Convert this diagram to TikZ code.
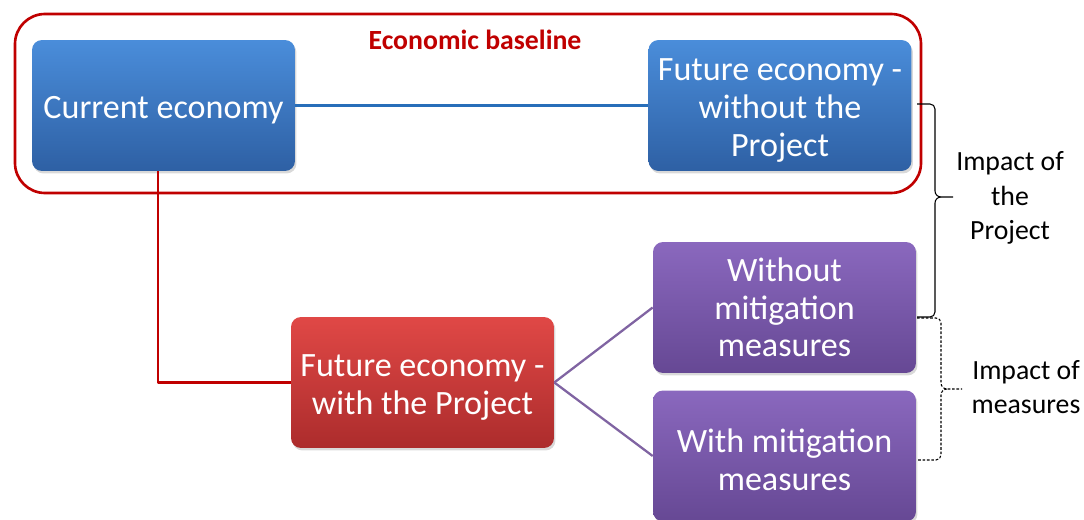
\documentclass[tikz,border=0pt]{standalone}
\usepackage{fontspec}
\setmainfont{Carlito}
\usepackage{tikz}
\usetikzlibrary{shadows}
\definecolor{framered}{RGB}{192,0,0}
\definecolor{linkblue}{RGB}{40,110,185}
\definecolor{linkpurple}{RGB}{128,100,162}
\newcommand\boxstrut{\rule{0pt}{18pt}}
\tikzset{
  ecobox/.style={rounded corners=0.2cm,minimum width=5.26cm,minimum height=2.62cm,
    align=center,text=white,font=\fontsize{19.4}{21.5}\selectfont,
    drop shadow={shadow xshift=0.03cm,shadow yshift=-0.05cm,opacity=0.3}},
  bluebox/.style={ecobox,top color={rgb,255:red,74;green,141;blue,218},bottom color={rgb,255:red,46;green,96;blue,164}},
  redbox/.style={ecobox,top color={rgb,255:red,224;green,72;blue,70},bottom color={rgb,255:red,172;green,44;blue,44}},
  purplebox/.style={ecobox,top color={rgb,255:red,138;green,104;blue,190},bottom color={rgb,255:red,102;green,72;blue,148}},
  impact/.style={align=center,font=\fontsize{15.8}{19.6}\selectfont},
  bracket/.style={line width=0.6pt}
}
% side brace: options, x of stem, top y, tip y, bottom y, x of tip
\newcommand\sidebrace[6]{%
  \draw[bracket,#1] (917,#3) -- (#2-5,#3) to[out=0,in=90] (#2,#3+5) -- (#2,#4-6)
    to[out=-90,in=180] (#2+6,#4) -- (#6,#4);
  \draw[bracket,#1] (#2+6,#4) to[out=180,in=90] (#2,#4+6) -- (#2,#5-5)
    to[out=-90,in=0] (#2-5,#5) -- (917,#5);}

\begin{document}
\begin{tikzpicture}[x=0.02cm,y=-0.02cm,line join=round]
\useasboundingbox (0,0) rectangle (1084,520);
% --- baseline frame
\draw[framered,line width=1.5pt,rounded corners=0.6cm] (15,14) rectangle (921,193);
\node[text=framered,font=\bfseries\fontsize{15.8}{19}\selectfont] (ttl) at (475,40) {Economic baseline};
% --- boxes
\node[bluebox] (cur) at (163.5,105.5) {\boxstrut Current economy};
\node[bluebox] (fwo) at (780,105.5) {\boxstrut Future economy -\\without the\\Project};
\node[redbox] (fwp) at (422.5,382.5) {\boxstrut Future economy -\\with the Project};
\node[purplebox] (wom) at (784.5,307.5) {Without\\mitigation\\measures};
\node[purplebox] (wm) at (784.5,456) {\boxstrut With mitigation\\measures};
% --- links
\draw[linkblue,line width=1.3pt] (cur) -- (fwo);
\draw[framered,line width=1.5pt] ([xshift=-0.11cm]cur.south) |- (fwp.west);
\draw[linkpurple,line width=1.3pt] (fwp.east) -- (wom.west);
\draw[linkpurple,line width=1.3pt] (fwp.east) -- (wm.west);
% --- braces
\sidebrace{}{935}{104}{197}{317}{953}
\sidebrace{dash pattern=on 1.5pt off 1pt}{941}{318}{389}{460}{962}
\node[impact] (ipr) at (1010,198) {Impact of\\the\\Project};
\node[impact] (ime) at (1026,387) {Impact of\\measures};
\end{tikzpicture}
\end{document}
